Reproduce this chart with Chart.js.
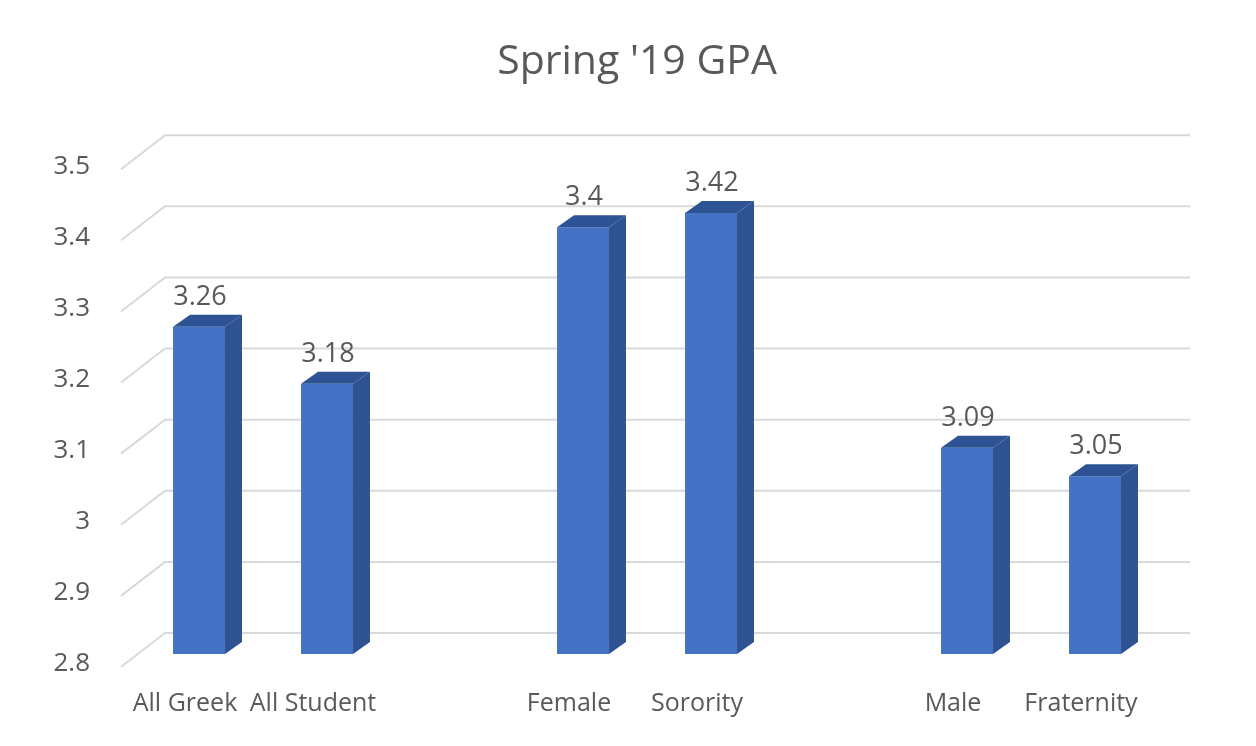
<!DOCTYPE html>
<html>
<head>
<meta charset="utf-8">
<script src="https://cdn.jsdelivr.net/npm/chart.js@4.4.1/dist/chart.umd.min.js"></script>
<style>
  html, body { margin: 0; padding: 0; background: #fff; }
  #wrap { width: 1256px; height: 746px; }
</style>
</head>
<body>
<div id="wrap"><canvas id="gpaChart" width="1256" height="746"></canvas></div>
<script>
// chart data
const categories = ['All Greek', 'All Student', '', 'Female', 'Sorority', '', 'Male', 'Fraternity'];
const gpaValues = [3.26, 3.18, null, 3.4, 3.42, null, 3.09, 3.05];
const yTicks = [2.8, 2.9, 3.0, 3.1, 3.2, 3.3, 3.4, 3.5];

const textColor = '#595959';
const depthX = 17, depthY = -12;

// back wall gridlines in a fake 3D perspective
const backGrid = {
  id: 'backGrid',
  beforeDatasetsDraw(chart) {
    const { ctx, chartArea, scales } = chart;
    ctx.save();
    ctx.strokeStyle = '#d9d9d9';
    ctx.lineWidth = 2;
    yTicks.forEach(v => {
      const y = scales.y.getPixelForValue(v);
      ctx.beginPath();
      ctx.moveTo(chartArea.left - 14, y + 13);
      ctx.lineTo(chartArea.left + 30, y - 21);
      ctx.lineTo(chartArea.right + 31, y - 21);
      ctx.stroke();
    });
    ctx.restore();
  }
};

// side / top faces of the bars plus value labels
const bar3d = {
  id: 'bar3d',
  afterDatasetsDraw(chart) {
    const { ctx, chartArea } = chart;
    const meta = chart.getDatasetMeta(0);
    ctx.save();
    meta.data.forEach((bar, i) => {
      const val = gpaValues[i];
      if (val == null) return;
      const { x, y, width } = bar.getProps(['x', 'y', 'width'], true);
      const base = chartArea.bottom;
      const l = x - width / 2, r = x + width / 2;
      ctx.fillStyle = '#2f5290';
      ctx.beginPath();
      ctx.moveTo(r, y);
      ctx.lineTo(r + depthX, y + depthY);
      ctx.lineTo(r + depthX, base + depthY);
      ctx.lineTo(r, base);
      ctx.closePath();
      ctx.fill();
      ctx.fillStyle = '#2e5394';
      ctx.beginPath();
      ctx.moveTo(l, y);
      ctx.lineTo(l + depthX, y + depthY);
      ctx.lineTo(r + depthX, y + depthY);
      ctx.lineTo(r, y);
      ctx.closePath();
      ctx.fill();

      ctx.fillStyle = textColor;
      ctx.font = '27px "Open Sans"';
      ctx.textAlign = 'center';
      ctx.textBaseline = 'alphabetic';
      ctx.fillText(String(val), x + 1, y - 22);
    });
    ctx.restore();
  }
};

new Chart(document.getElementById('gpaChart'), {
  type: 'bar',
  data: {
    labels: categories,
    datasets: [{
      data: gpaValues,
      backgroundColor: '#4472c4',
      borderWidth: 0,
      categoryPercentage: 1,
      barPercentage: 0.406
    }]
  },
  options: {
    responsive: false,
    animation: false,
    layout: { padding: { left: 18, right: 0, top: 0, bottom: 26 } },
    plugins: {
      legend: { display: false },
      tooltip: { enabled: false },
      title: {
        display: true,
        text: "Spring '19 GPA",
        color: textColor,
        font: { family: 'Open Sans', size: 41, weight: 'normal' },
        padding: { top: 38, bottom: 69 }
      }
    },
    scales: {
      x: {
        afterFit(scale) { scale.height = 66; },
        grid: { display: false, drawTicks: false },
        border: { display: false },
        ticks: {
          color: textColor,
          font: { family: 'Open Sans', size: 25 },
          autoSkip: false,
          maxRotation: 0,
          padding: 35,
          labelOffset: -14
        }
      },
      y: {
        min: 2.8,
        max: 3.5,
        afterFit(scale) { scale.width = 117; },
        afterBuildTicks(scale) { scale.ticks = yTicks.map(v => ({ value: v })); },
        grid: { display: false, drawTicks: false },
        border: { display: false },
        ticks: {
          color: textColor,
          font: { family: 'Open Sans', size: 26 },
          padding: 45,
          labelOffset: 10,
          callback: v => String(Math.round(v * 10) / 10)
        }
      },
      y2: {
        position: 'right',
        display: true,
        afterFit(scale) { scale.width = 97; },
        grid: { display: false, drawTicks: false },
        border: { display: false },
        ticks: { display: false }
      }
    }
  },
  plugins: [backGrid, bar3d]
});
</script>
</body>
</html>
